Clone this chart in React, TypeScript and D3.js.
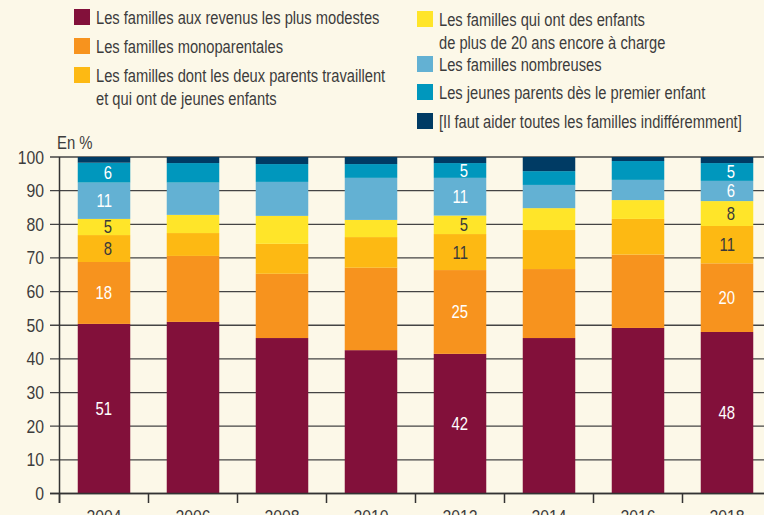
import React from "react";
import * as d3 from "d3";

const years = ["2004", "2006", "2008", "2010", "2012", "2014", "2016", "2018"];

// parts in % (bottom to top)
const modestes = [50.4, 51.0, 46.2, 42.6, 41.5, 46.2, 49.2, 48.0];
const monoparentales = [18.4, 19.6, 19.1, 24.5, 24.9, 20.5, 21.8, 20.4];
const deuxParents = [8.0, 6.8, 8.9, 9.1, 10.7, 11.6, 10.6, 11.1];
const plusDe20 = [4.8, 5.4, 8.3, 5.1, 5.5, 6.5, 5.6, 7.4];
const nombreuses = [10.8, 9.6, 10.1, 12.5, 11.2, 6.9, 6.0, 6.0];
const jeunesParents = [5.9, 5.8, 5.3, 4.1, 4.4, 4.1, 5.6, 5.3];
const toutes = [1.7, 1.8, 2.1, 2.1, 1.8, 4.2, 1.2, 1.8];

// printed values (only some years carry them)
const labelYears = ["2004", "2012", "2018"];
const labels2004 = [51, 18, 8, 5, 11, 6];
const labels2012 = [42, 25, 11, 5, 11, 5];
const labels2018 = [48, 20, 11, 8, 6, 5];

const yTicks = [0, 10, 20, 30, 40, 50, 60, 70, 80, 90, 100];

const series = [
  { key: "modestes", values: modestes, color: "#82103a", text: "#fff" },
  { key: "mono", values: monoparentales, color: "#f7931e", text: "#fff" },
  { key: "deux", values: deuxParents, color: "#fdb913", text: "#3a3a3a" },
  { key: "plus20", values: plusDe20, color: "#ffe529", text: "#3a3a3a" },
  { key: "nomb", values: nombreuses, color: "#63b1d3", text: "#fff" },
  { key: "jeunes", values: jeunesParents, color: "#0097bd", text: "#fff" },
  { key: "toutes", values: toutes, color: "#003b64", text: "#fff" },
];

const FONT = "'Liberation Sans', Arial, sans-serif";
const INK = "#3c3c3c";
const BG = "#fcf8e8";

// the source uses a condensed face; squeeze a regular one horizontally
function T(props: any) {
  const { x, y, anchor = "start", size = 17.5, fill = INK, sx = 0.85, children } = props;
  return (
    <text
      transform={`translate(${x},${y}) scale(${sx},1)`}
      fontSize={size}
      fill={fill}
      textAnchor={anchor}
    >
      {children}
    </text>
  );
}

export default function App() {
  const W = 764;
  const H = 515;

  const x = d3
    .scaleBand()
    .domain(years)
    .range([59.5, 771.5])
    .paddingInner(0.41)
    .paddingOuter(0.205);

  const y = d3.scaleLinear().domain([0, 100]).range([493.5, 157]);

  const table = years.map((yr, i) => {
    const row: any = { year: yr };
    series.forEach((s) => (row[s.key] = s.values[i]));
    return row;
  });
  const stacked = d3.stack().keys(series.map((s) => s.key))(table);

  const labelsByYear: Record<string, number[]> = {
    "2004": labels2004,
    "2012": labels2012,
    "2018": labels2018,
  };

  const legendLeft = [
    { color: series[0].color, lines: ["Les familles aux revenus les plus modestes"], y: 17 },
    { color: series[1].color, lines: ["Les familles monoparentales"], y: 46 },
    { color: series[2].color, lines: ["Les familles dont les deux parents travaillent", "et qui ont de jeunes enfants"], y: 75 },
  ];
  const legendRight = [
    { color: series[3].color, lines: ["Les familles qui ont des enfants", "de plus de 20 ans encore à charge"], y: 19 },
    { color: series[4].color, lines: ["Les familles nombreuses"], y: 64 },
    { color: series[5].color, lines: ["Les jeunes parents dès le premier enfant"], y: 92 },
    { color: series[6].color, lines: ["[Il faut aider toutes les familles indifféremment]"], y: 121 },
  ];

  const legendItem = (it: any, sx: number, tx: number) => (
    <g key={it.lines[0]}>
      <rect x={sx} y={it.y - 8} width={16} height={16} fill={it.color} />
      {it.lines.map((l: string, k: number) => (
        <T key={k} x={tx} y={it.y + 6.5 + k * 23.5} sx={0.84}>
          {l}
        </T>
      ))}
    </g>
  );

  const tickX = (yr: string) => (x(yr) as number) - (x.step() * 0.41) / 2;

  return (
    <svg
      width={W}
      height={H}
      style={{ position: "absolute", left: 0, top: 0, fontFamily: FONT }}
    >
      <rect width={W} height={H} fill={BG} />

      {legendLeft.map((it) => legendItem(it, 74, 96))}
      {legendRight.map((it) => legendItem(it, 417, 439))}

      <T x={57} y={149}>En %</T>

      {/* grid */}
      {yTicks.map((t) => (
        <g key={t}>
          <line x1={50} x2={W} y1={y(t)} y2={y(t)} stroke="#444" strokeWidth={1.3} />
          <T x={44} y={y(t) + 6.5} anchor="end" sx={0.9}>
            {t}
          </T>
        </g>
      ))}

      {/* bars */}
      {stacked.map((layer, si) => (
        <g key={layer.key}>
          {layer.map((d: any, i: number) => (
            <rect
              key={years[i]}
              x={x(years[i])}
              width={x.bandwidth()}
              y={y(d[1])}
              height={y(d[0]) - y(d[1])}
              fill={series[si].color}
            />
          ))}
        </g>
      ))}

      {/* values */}
      {labelYears.map((yr) => {
        const i = years.indexOf(yr);
        const cx = (x(yr) as number) + x.bandwidth() / 2 + 8;
        return labelsByYear[yr].map((v, si) => {
          const d: any = stacked[si][i];
          return (
            <T
              key={yr + si}
              x={cx}
              y={(y(d[0]) + y(d[1])) / 2 + 6.5}
              fill={series[si].text}
              anchor="end"
            >
              {v}
            </T>
          );
        });
      })}

      {/* axes */}
      <line x1={59.5} x2={59.5} y1={157} y2={503} stroke="#333" strokeWidth={1.5} />
      <line x1={50} x2={W} y1={y(0)} y2={y(0)} stroke="#333" strokeWidth={1.5} />
      {years.map((yr) => (
        <line
          key={"t" + yr}
          x1={tickX(yr)}
          x2={tickX(yr)}
          y1={y(0)}
          y2={503}
          stroke="#333"
          strokeWidth={1.5}
        />
      ))}
      {years.map((yr) => (
        <T key={"l" + yr} x={(x(yr) as number) + x.bandwidth() / 2} y={523} anchor="middle" sx={0.9}>
          {yr}
        </T>
      ))}
    </svg>
  );
}
